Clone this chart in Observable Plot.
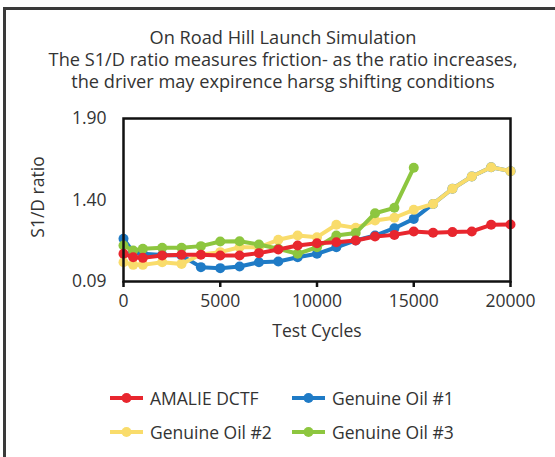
<!DOCTYPE html>
<html><head><meta charset="utf-8">
<script src="https://cdn.jsdelivr.net/npm/d3@7"></script>
<script src="https://cdn.jsdelivr.net/npm/@observablehq/plot@0.6"></script>
<style>
body{margin:0;background:#fff;font-family:"Open Sans",sans-serif;color:#333;}
#box{position:absolute;left:3px;top:7px;width:570px;height:470px;border:3px solid #3a3a3a;box-sizing:border-box;}
#title{position:absolute;left:0;top:26px;width:566px;text-align:center;font-size:18.2px;line-height:22px;color:#333;}
#chart{position:absolute;left:0;top:0;}
#chart svg text{font-size:17.5px;}
#legend{position:absolute;left:0;top:0;font-size:17.5px;color:#333;}
.item{position:absolute;display:flex;align-items:center;white-space:nowrap;}
.item svg{margin-right:7px;}
</style></head>
<body>
<div id="box"></div>
<div id="title">On Road Hill Launch Simulation<br>The S1/D ratio measures friction- as the ratio increases,<br>the driver may expirence harsg shifting conditions</div>
<div id="chart"></div>
<div id="legend"></div>
<script>
const cycles = [0,500,1000,2000,3000,4000,5000,6000,7000,8000,9000,10000,11000,12000,13000,14000,15000,16000,17000,18000,19000,20000];
const amalie = [1.070,1.049,1.045,1.060,1.064,1.064,1.060,1.060,1.074,1.096,1.121,1.135,1.141,1.152,1.176,1.186,1.207,1.199,1.203,1.207,1.248,1.250];
const oil1 = [1.162,1.080,1.070,1.062,1.060,0.988,0.982,0.992,1.018,1.023,1.049,1.070,1.110,1.152,1.182,1.227,1.284,1.376,1.469,1.544,1.601,1.577];
const oil2 = [1.018,1.002,1.002,1.018,1.008,1.066,1.080,1.110,1.110,1.156,1.182,1.172,1.248,1.229,1.274,1.291,1.340,1.376,1.469,1.544,1.601,1.577];
const oil3 = [1.121,1.090,1.101,1.107,1.107,1.117,1.145,1.147,1.127,1.101,1.070,1.110,1.182,1.197,1.319,1.352,1.598];
const seriesNames = ["AMALIE DCTF","Genuine Oil #1","Genuine Oil #2","Genuine Oil #3"];
const seriesValues = [amalie, oil1, oil2, oil3];
const colors = ["#e8262e","#1f7bc6","#f9dc6b","#8dc63f"];
const yTicks = [0.9,1.4,1.9];
const yTickLabels = ["0.09","1.40","1.90"];
const xTicks = [0,5000,10000,15000,20000];

const data = [];
seriesNames.forEach((name,i)=>{
  seriesValues[i].forEach((v,j)=>data.push({series:name, x:cycles[j], y:v}));
});
const drawOrder = [1,2,3,0];
const marks = [];
drawOrder.forEach(i=>{
  const d = data.filter(r=>r.series===seriesNames[i]);
  marks.push(Plot.line(d,{x:"x",y:"y",stroke:colors[i],strokeWidth:4}));
  marks.push(Plot.dot(d,{x:"x",y:"y",fill:colors[i],r:5}));
});
const chart = Plot.plot({
  width:555, height:345,
  marginLeft:123, marginRight:45, marginTop:118, marginBottom:64,
  style:{fontFamily:"Open Sans, sans-serif", fontSize:"17.5px", color:"#333", background:"transparent"},
  x:{domain:[0,20000]},
  y:{domain:[0.9,1.9]},
  marks:[
    Plot.axisX({ticks:xTicks, tickFormat:d=>String(d), tickSize:6, strokeWidth:2.5, stroke:"#111", tickPadding:7, label:null}),
    Plot.axisY({ticks:yTicks, tickFormat:(d,i)=>yTickLabels[i], tickSize:0, tickPadding:17, label:null}),
    ...marks,
    Plot.frame({stroke:"#111", strokeWidth:2.5}),
    Plot.text(["S1/D ratio"],{frameAnchor:"left", textAnchor:"middle", dx:-85, dy:-3, rotate:-90, fill:"#333"}),
    Plot.text(["Test Cycles"],{frameAnchor:"bottom", dy:55, fill:"#333"})
  ]
});
document.getElementById("chart").appendChild(chart);

const pos = [[110,398],[292,398],[110,432],[292,432]];
const leg = document.getElementById("legend");
seriesNames.forEach((name,i)=>{
  const div = document.createElement("div");
  div.className="item";
  div.style.left = pos[i][0]+"px";
  div.style.top = (pos[i][1]-12)+"px";
  div.style.height="24px";
  div.innerHTML = `<svg width="33" height="12"><line x1="0" x2="33" y1="6" y2="6" stroke="${colors[i]}" stroke-width="4"/><circle cx="16.5" cy="6" r="5" fill="${colors[i]}"/></svg>${name}`;
  leg.appendChild(div);
});
</script>
</body></html>
